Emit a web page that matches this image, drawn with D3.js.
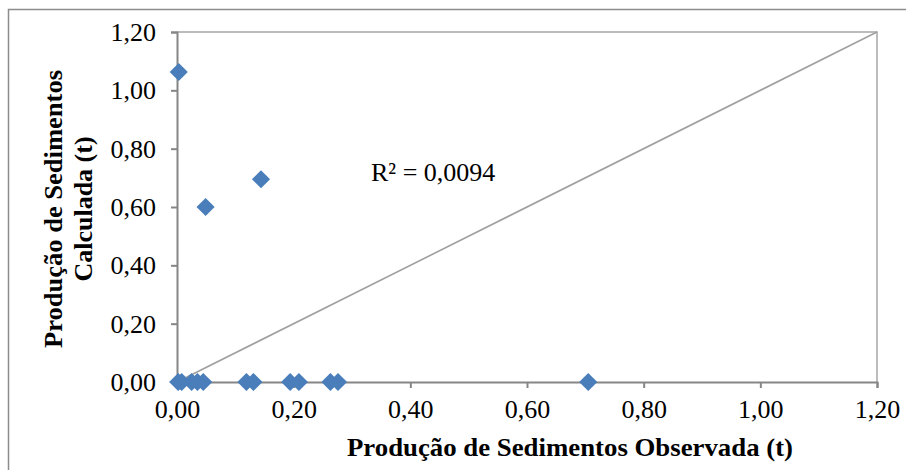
<!DOCTYPE html>
<html>
<head>
<meta charset="utf-8">
<script src="https://cdn.jsdelivr.net/npm/d3@7"></script>
<style>
  html, body { margin: 0; padding: 0; background: #fff; }
  svg { display: block; }
  text { font-family: "Liberation Serif", "Times New Roman", serif; fill: #000; }
</style>
</head>
<body>
<svg id="chart" width="906" height="470"></svg>
<script>
// Observed vs calculated sediment yield (t)
const observed   = [0.003, 0.049, 0.144, 0.002, 0.008, 0.025, 0.035, 0.045, 0.119, 0.131, 0.194, 0.209, 0.263, 0.276, 0.705];
const calculated = [1.063, 0.600, 0.695, 0.000, 0.000, 0.000, 0.000, 0.000, 0.000, 0.000, 0.000, 0.000, 0.000, 0.000, 0.000];
const tickValues = [0, 0.2, 0.4, 0.6, 0.8, 1.0, 1.2];
const xTitle = "Produção de Sedimentos Observada (t)";
const yTitleLines = ["Produção de Sedimentos", "Calculada (t)"];
const r2Label = "R² = 0,0094";
const lineOfEquality = [0, 1.2];

const svg = d3.select("#chart");
const fmt = v => d3.format(".2f")(v).replace(".", ",");
const serif = "'Liberation Serif', 'Times New Roman', serif";

const x = d3.scaleLinear().domain([0, 1.2]).range([177, 877]);
const y = d3.scaleLinear().domain([0, 1.2]).range([382, 32]);

// outer chart frame (left and top edges visible)
svg.append("path")
  .attr("d", "M8.5,470 V9.5 H906")
  .attr("fill", "none")
  .attr("stroke", "#8c8c8c")
  .attr("stroke-width", 1.5);

// plot area border
svg.append("path")
  .attr("d", `M${x(0)},${y(1.2)} H${x(1.2)} V${y(0)}`)
  .attr("fill", "none")
  .attr("stroke", "#a6a6a6")
  .attr("stroke-width", 1.5);

// 1:1 line
svg.append("line")
  .attr("x1", x(lineOfEquality[0])).attr("y1", y(lineOfEquality[0]))
  .attr("x2", x(lineOfEquality[1])).attr("y2", y(lineOfEquality[1]))
  .attr("stroke", "#a0a0a0")
  .attr("stroke-width", 1.6);

// axes
const xAxis = d3.axisBottom(x).tickValues(tickValues).tickFormat(fmt).tickSize(6).tickPadding(8);
const yAxis = d3.axisLeft(y).tickValues(tickValues).tickFormat(fmt).tickSize(6).tickPadding(15);

const gx = svg.append("g").attr("transform", `translate(0,${y(0)})`).call(xAxis);
const gy = svg.append("g").attr("transform", `translate(${x(0)},0)`).call(yAxis);

[gx, gy].forEach(g => {
  g.select(".domain").attr("stroke", "#868686").attr("stroke-width", 2);
  g.selectAll(".tick line").attr("stroke", "#868686").attr("stroke-width", 2);
  g.selectAll(".tick text")
    .style("font-family", serif)
    .style("font-size", "26px")
    .attr("fill", "#000");
});
gx.selectAll(".tick text").attr("dy", "0.85em");
gy.selectAll(".tick text").attr("dy", "0.33em");

// data points (diamonds)
const diamond = d3.symbol().type(d3.symbolDiamond2).size(210);
svg.append("g").selectAll("path")
  .data(observed.map((o, i) => [o, calculated[i]]))
  .join("path")
  .attr("transform", d => `translate(${x(d[0])},${y(d[1])})`)
  .attr("d", diamond)
  .attr("fill", "#4a7ebb");

// R² label
svg.append("text")
  .attr("x", 371).attr("y", 181)
  .style("font-size", "26px")
  .text(r2Label);

// axis titles
svg.append("text")
  .attr("x", 570).attr("y", 456)
  .attr("text-anchor", "middle")
  .style("font-size", "26px")
  .style("font-weight", "bold")
  .attr("textLength", 446)
  .attr("lengthAdjust", "spacingAndGlyphs")
  .text(xTitle);

const yt = svg.append("text")
  .attr("transform", "translate(62,209) rotate(-90)")
  .attr("text-anchor", "middle")
  .style("font-size", "26px")
  .style("font-weight", "bold");
yt.append("tspan").attr("x", 0).attr("y", 0)
  .attr("textLength", 278).attr("lengthAdjust", "spacingAndGlyphs")
  .text(yTitleLines[0]);
yt.append("tspan").attr("x", 0).attr("y", 30)
  .text(yTitleLines[1]);
</script>
</body>
</html>
